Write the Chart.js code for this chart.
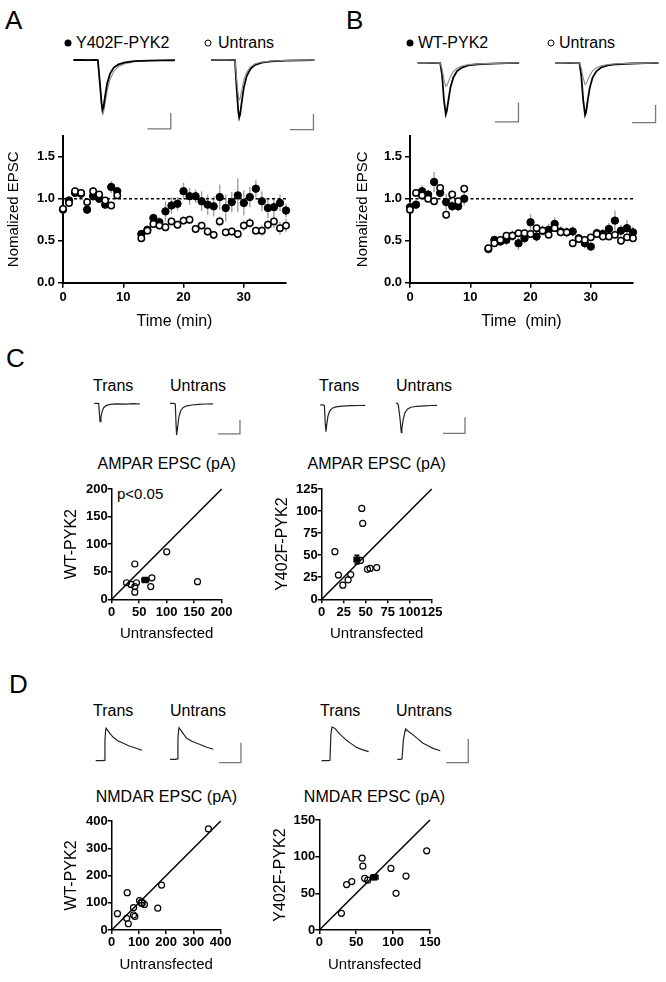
<!DOCTYPE html>
<html>
<head>
<meta charset="utf-8">
<script src="https://cdn.jsdelivr.net/npm/chart.js@4.4.1/dist/chart.umd.min.js"></script>
<style>
  body { margin: 0; width: 666px; height: 982px; position: relative; overflow: hidden; background: #fff;
         font-family: "Liberation Sans", Arial, sans-serif; color: #000; }
  canvas { position: absolute; }
  .lbl { position: absolute; line-height: 1; white-space: pre; transform: translateY(-50%); }
  .ttl { position: absolute; line-height: 1; white-space: pre; transform: translate(-50%, -50%); font-size: 16px; }
  .dot { position: absolute; width: 7px; height: 7px; border-radius: 50%; box-sizing: border-box; transform: translate(-50%, -50%); }
</style>
</head>
<body>

<div class="lbl" style="left:5px;top:20px;font-size:26px">A</div>
<div class="lbl" style="left:346px;top:20px;font-size:26px">B</div>
<div class="lbl" style="left:6px;top:358px;font-size:26px">C</div>
<div class="lbl" style="left:9px;top:684px;font-size:26px">D</div>

<div class="dot" style="left:68px;top:43px;background:#000"></div>
<div class="lbl" style="left:76px;top:43px;font-size:16px">Y402F-PYK2</div>
<div class="dot" style="left:208px;top:43px;border:1.5px solid #000"></div>
<div class="lbl" style="left:218px;top:43px;font-size:16px">Untrans</div>
<div class="dot" style="left:410px;top:43px;background:#000"></div>
<div class="lbl" style="left:418px;top:43px;font-size:16px">WT-PYK2</div>
<div class="dot" style="left:551px;top:43px;border:1.5px solid #000"></div>
<div class="lbl" style="left:559px;top:43px;font-size:16px">Untrans</div>

<div class="lbl" style="left:93px;top:386px;font-size:16px">Trans</div>
<div class="lbl" style="left:170px;top:386px;font-size:16px">Untrans</div>
<div class="lbl" style="left:319px;top:386px;font-size:16px">Trans</div>
<div class="lbl" style="left:396px;top:386px;font-size:16px">Untrans</div>
<div class="ttl" style="left:166.7px;top:464px">AMPAR EPSC (pA)</div>
<div class="ttl" style="left:376.7px;top:464px">AMPAR EPSC (pA)</div>
<div class="lbl" style="left:117px;top:493px;font-size:15px">p&lt;0.05</div>

<div class="lbl" style="left:93px;top:711px;font-size:16px">Trans</div>
<div class="lbl" style="left:170px;top:711px;font-size:16px">Untrans</div>
<div class="lbl" style="left:320px;top:711px;font-size:16px">Trans</div>
<div class="lbl" style="left:396px;top:711px;font-size:16px">Untrans</div>
<div class="ttl" style="left:166.4px;top:797px">NMDAR EPSC (pA)</div>
<div class="ttl" style="left:374.5px;top:797px">NMDAR EPSC (pA)</div>

<script>
// ---- time course (A, B) ----
const timeMin = [0, 1, 2, 3, 4, 5, 6, 7, 8, 9, 13, 14, 15, 16, 17, 18, 19, 20, 21, 22, 23, 24, 25,
                 26, 27, 28, 29, 30, 31, 32, 33, 34, 35, 36, 37];
const baselineLevel = 1.0;

const y402fEpsc = [0.87, 0.98, 1.07, 1.06, 0.87, 1.03, 1.00, 0.93, 1.14, 1.09,
                   0.58, 0.63, 0.77, 0.72, 0.85, 0.92, 0.94, 1.09, 1.03, 1.03, 0.97, 0.93, 0.91,
                   1.02, 0.89, 0.96, 1.04, 0.95, 1.02, 1.12, 0.97, 0.89, 0.90, 0.95, 0.86];
const y402fSem = [0.05, 0.04, 0.04, 0.04, 0.05, 0.05, 0.05, 0.05, 0.07, 0.05,
                  0.05, 0.05, 0.05, 0.06, 0.12, 0.10, 0.08, 0.10, 0.10, 0.08, 0.12, 0.12, 0.12,
                  0.15, 0.16, 0.12, 0.20, 0.15, 0.12, 0.10, 0.12, 0.12, 0.10, 0.10, 0.08];
const untransAEpsc = [0.88, 0.95, 1.09, 1.07, 0.96, 1.09, 1.05, 0.98, 0.92, 1.04,
                      0.53, 0.62, 0.70, 0.68, 0.66, 0.73, 0.69, 0.74, 0.75, 0.64, 0.68, 0.61, 0.57,
                      0.73, 0.60, 0.61, 0.58, 0.68, 0.71, 0.62, 0.62, 0.69, 0.73, 0.65, 0.68];
const untransASem = [0.04, 0.04, 0.04, 0.04, 0.04, 0.04, 0.04, 0.04, 0.04, 0.04,
                     0.04, 0.05, 0.05, 0.05, 0.05, 0.05, 0.05, 0.05, 0.05, 0.05, 0.05, 0.05, 0.05,
                     0.06, 0.05, 0.05, 0.05, 0.06, 0.06, 0.05, 0.06, 0.06, 0.08, 0.08, 0.08];

const wtEpsc = [0.90, 0.93, 1.09, 1.05, 1.20, 1.07, 0.96, 0.91, 0.91, 1.00,
                0.40, 0.51, 0.49, 0.51, 0.56, 0.47, 0.53, 0.72, 0.55, 0.62, 0.63, 0.70, 0.61,
                0.60, 0.61, 0.53, 0.47, 0.43, 0.59, 0.58, 0.64, 0.74, 0.62, 0.65, 0.60];
const wtSem = [0.06, 0.05, 0.07, 0.05, 0.12, 0.05, 0.10, 0.06, 0.06, 0.08,
               0.03, 0.05, 0.05, 0.06, 0.06, 0.08, 0.06, 0.10, 0.06, 0.06, 0.07, 0.08, 0.06,
               0.06, 0.06, 0.05, 0.06, 0.05, 0.06, 0.06, 0.07, 0.12, 0.07, 0.10, 0.07];
const untransBEpsc = [0.87, 1.07, 1.04, 1.00, 0.97, 1.13, 0.81, 1.05, 0.97, 1.12,
                      0.41, 0.47, 0.51, 0.56, 0.56, 0.59, 0.59, 0.58, 0.65, 0.62, 0.57, 0.65, 0.60,
                      0.60, 0.47, 0.52, 0.51, 0.54, 0.58, 0.55, 0.55, 0.57, 0.50, 0.54, 0.53];
const untransBSem = [0.04, 0.04, 0.04, 0.04, 0.04, 0.04, 0.05, 0.04, 0.04, 0.04,
                     0.03, 0.04, 0.04, 0.04, 0.04, 0.04, 0.04, 0.04, 0.04, 0.04, 0.04, 0.04, 0.04,
                     0.04, 0.04, 0.04, 0.04, 0.04, 0.04, 0.04, 0.04, 0.04, 0.04, 0.04, 0.04];

// ---- example traces (ms, pA) ----
const tAL = [0, 8, 16, 24, 26, 28, 30, 31, 32, 34, 36, 39, 43, 48, 55, 65, 80, 95, 108];
const aLeftAfter  = [0, 2, -1, 1, 0, -260, -540, -621, -590, -430, -290, -170, -95, -55, -30, -15, -8, -4, -3];
const aLeftBefore = [0, 1, 0, 1, 0, -280, -600, -681, -660, -520, -380, -240, -140, -80, -45, -22, -10, -5, -3];
const tAR = [0, 8, 16, 24, 25.5, 27, 29, 30, 31, 33, 35, 38, 42, 47, 54, 64, 80, 95, 110];
const aRightAfter  = [0, 1, -1, 0, 0, -300, -640, -721, -680, -500, -340, -200, -110, -60, -32, -16, -8, -4, -2];
const aRightBefore = [0, 1, 0, 0, 0, -200, -440, -500, -480, -360, -250, -150, -85, -48, -26, -13, -6, -3, -2];
const tBL = [0, 8, 16, 22, 24, 26, 28, 30, 31, 33, 35, 38, 42, 47, 54, 64, 80, 95, 108];
const bLeftAfter  = [0, 1, -1, 0, 0, -120, -380, -532, -500, -370, -250, -150, -85, -48, -26, -14, -7, -3, -2];
const bLeftBefore = [0, 1, 0, 0, 0, -60, -170, -243, -235, -190, -140, -90, -55, -32, -18, -10, -5, -2, -1];
const tBR = [0, 8, 16, 24, 26, 28, 30, 32, 33, 35, 37, 40, 44, 49, 56, 66, 82, 96, 110];
const bRightAfter  = [0, 1, -1, 0, 0, -150, -420, -589, -560, -410, -280, -165, -95, -52, -28, -15, -7, -3, -2];
const bRightBefore = [0, 1, 0, 0, 0, -60, -170, -244, -235, -190, -140, -90, -55, -32, -18, -10, -5, -2, -1];

const tCL1 = [0, 6, 10, 12, 13, 15, 18, 22, 28, 36, 50, 70, 90, 104];
const cLeftTrans = [0, 0, -2, -90, -131, -100, -55, -28, -15, -8, -4, -6, -3, -5];
const tCL2 = [0, 8, 12, 14, 15, 17, 20, 24, 30, 38, 50, 65, 80, 98];
const cLeftUntrans = [0, 0, -5, -170, -226, -180, -100, -55, -30, -18, -12, -8, -5, -4];
const tCR1 = [0, 6, 10, 12, 13.6, 15, 18, 22, 28, 36, 50, 70, 90, 103];
const cRightTrans = [0, 1, -3, -120, -167, -130, -70, -38, -20, -12, -7, -4, -3, -2];
const tCR2 = [0, 2, 4, 6, 10, 12.7, 14, 17, 21, 27, 35, 48, 65, 80, 94];
const cRightUntrans = [11, 11, 10, 0, -90, -173, -150, -90, -48, -25, -14, -8, -5, -3, -2];

const tDL1 = [0, 60, 78, 84, 90, 94, 110, 130, 160, 200, 251, 300, 342, 380, 418];
const dLeftTrans = [0, 0, 2, 100, 150, 162, 150, 135, 117, 100, 87, 75, 67, 60, 53];
const tDL2 = [0, 50, 66, 72, 78, 82, 100, 125, 152, 200, 243, 290, 334, 394];
const dLeftUntrans = [0, 0, 2, 100, 145, 158, 145, 125, 105, 90, 80, 70, 60, 50];
const tDR1 = [0, 60, 77, 85, 95, 120, 160, 225, 270, 316, 370, 429];
const dRightTrans = [0, 0, 2, 110, 142, 137, 115, 87, 72, 57, 47, 38];
const tDR2 = [0, 30, 43, 55, 70, 76, 100, 143, 190, 234, 280, 325, 391];
const dRightUntrans = [0, 0, 2, 80, 120, 128, 118, 103, 85, 68, 57, 46, 36];

// ---- scatter (pA) ----
const ampaWtX = [27, 35, 42, 45, 42, 42, 73, 71, 100, 156];
const ampaWtY = [30, 27, 23, 30, 13, 64, 39, 23, 86, 32];
const ampaWtMean = [61, 35], ampaWtMeanErr = [6, 4];
const ampaY402X = [45.5, 46.6, 15, 19, 24, 30, 33, 44, 52, 55, 62.5];
const ampaY402Y = [103, 86, 54, 27.5, 16, 22, 28, 44, 34, 35, 36];
const ampaY402Mean = [40, 45], ampaY402MeanErr = [3, 5];
const nmdaWtX = [355, 183, 57, 21, 55, 61, 80, 80, 85, 169, 102, 120];
const nmdaWtY = [371, 165, 137, 60, 43, 23, 82, 55, 50, 80, 108, 94];
const nmdaWtMean = [110, 100], nmdaWtMeanErr = [12, 12];
const nmdaY402X = [145.5, 58, 59, 97, 117.5, 61.5, 65.6, 37, 44, 104, 30];
const nmdaY402Y = [108, 98, 87, 84, 73.6, 70.5, 68, 62, 66, 50, 22.7];
const nmdaY402Mean = [74.5, 72], nmdaY402MeanErr = [5, 3];

Chart.defaults.font.family = '"Liberation Sans", Arial, sans-serif';
Chart.defaults.color = '#000';
Chart.defaults.animation = false;

function addCanvas(left, top, w, h) {
  const c = document.createElement('canvas');
  c.width = w; c.height = h;
  c.style.left = left + 'px'; c.style.top = top + 'px';
  c.style.width = w + 'px'; c.style.height = h + 'px';
  document.body.appendChild(c);
  return c;
}

function toPts(xs, ys) {
  return xs.map((x, i) => ({ x: x, y: ys[i] }));
}

function drawErr(chart, onTop) {
  const ctx = chart.ctx, xs = chart.scales.x, ys = chart.scales.y;
  chart.data.datasets.forEach(ds => {
    if (!ds.err || !!ds.err.top !== onTop) return;
    ctx.save();
    ctx.strokeStyle = ds.err.color;
    ctx.lineWidth = ds.err.width;
    ds.data.forEach((p, i) => {
      const px = xs.getPixelForValue(p.x), py = ys.getPixelForValue(p.y);
      const cap = ds.err.cap || 0;
      ctx.beginPath();
      if (ds.err.y) {
        const y1 = ys.getPixelForValue(p.y - ds.err.y[i]), y2 = ys.getPixelForValue(p.y + ds.err.y[i]);
        ctx.moveTo(px, y1); ctx.lineTo(px, y2);
        if (cap) { ctx.moveTo(px - cap, y1); ctx.lineTo(px + cap, y1); ctx.moveTo(px - cap, y2); ctx.lineTo(px + cap, y2); }
      }
      if (ds.err.x) {
        const x1 = xs.getPixelForValue(p.x - ds.err.x[i]), x2 = xs.getPixelForValue(p.x + ds.err.x[i]);
        ctx.moveTo(x1, py); ctx.lineTo(x2, py);
        if (cap) { ctx.moveTo(x1, py - cap); ctx.lineTo(x1, py + cap); ctx.moveTo(x2, py - cap); ctx.lineTo(x2, py + cap); }
      }
      ctx.stroke();
    });
    ctx.restore();
  });
}

const errorBars = {
  id: 'errorBars',
  beforeDatasetsDraw(chart) { drawErr(chart, false); },
  afterDatasetsDraw(chart) { drawErr(chart, true); }
};

const tickFont = { size: 13, weight: 'bold' };
const axisGrid = { drawOnChartArea: false, drawTicks: true, tickLength: 5, color: '#000', lineWidth: 1.5 };

function timeChart(box, ca, yTitlePad, xTitle, filled, filledErr, open, openErr) {
  const c = addCanvas(box.left, box.top, box.width, box.height);
  new Chart(c, {
    type: 'scatter',
    data: {
      datasets: [
        { data: toPts(timeMin, open), pointRadius: 3.2, pointBackgroundColor: '#fff', pointBorderColor: '#000',
          pointBorderWidth: 1.5, clip: false, err: { y: openErr, color: '#a0a0a0', width: 1.4 } },
        { data: toPts(timeMin, filled), pointRadius: 3.7, pointBackgroundColor: '#000', pointBorderColor: '#000',
          pointBorderWidth: 1, clip: false, err: { y: filledErr, color: '#a0a0a0', width: 1.4 } },
        { type: 'line', data: [{ x: timeMin[0], y: baselineLevel }, { x: timeMin[timeMin.length - 1], y: baselineLevel }],
          borderColor: '#000', borderWidth: 1.3, borderDash: [3, 2.5], pointRadius: 0, clip: false }
      ]
    },
    options: {
      responsive: false,
      events: [],
      layout: { padding: { top: ca.top - box.top, right: box.left + box.width - ca.right, left: 0, bottom: 0 } },
      plugins: { legend: { display: false }, tooltip: { enabled: false } },
      scales: {
        x: {
          type: 'linear', min: 0, max: 37,
          afterFit: s => { s.height = box.top + box.height - ca.bottom; },
          ticks: { stepSize: 10, includeBounds: false, font: tickFont, padding: 2, maxRotation: 0 },
          grid: axisGrid, border: { color: '#000', width: 2 },
          title: { display: true, text: xTitle, font: { size: 16 }, padding: { top: 0, bottom: 4 } }
        },
        y: {
          min: 0, max: 1.75,
          afterFit: s => { s.width = ca.left - box.left; },
          ticks: { stepSize: 0.5, includeBounds: false, font: tickFont, padding: 3, callback: v => v.toFixed(1) },
          grid: axisGrid, border: { color: '#000', width: 2 },
          title: { display: true, text: 'Nomalized EPSC', font: { size: 15 }, padding: { top: yTitlePad, bottom: 0 } }
        }
      }
    },
    plugins: [errorBars]
  });
}

timeChart({ left: 0, top: 125, width: 300, height: 210 }, { left: 63, top: 135, right: 286, bottom: 282.7 }, 5,
          'Time (min)', y402fEpsc, y402fSem, untransAEpsc, untransASem);
timeChart({ left: 347, top: 125, width: 300, height: 210 }, { left: 410, top: 135, right: 633, bottom: 282.7 }, 6.5,
          'Time  (min)', wtEpsc, wtSem, untransBEpsc, untransBSem);

function scatterChart(cfg) {
  const box = cfg.box, ca = cfg.area;
  const c = addCanvas(box.left, box.top, box.width, box.height);
  new Chart(c, {
    type: 'scatter',
    data: {
      datasets: [
        { data: [{ x: cfg.mean[0], y: cfg.mean[1] }], pointStyle: 'rect', pointRadius: 3.6,
          pointBackgroundColor: cfg.meanFill, pointBorderColor: '#000', pointBorderWidth: 1.3, clip: false,
          err: { x: [cfg.meanErr[0]], y: [cfg.meanErr[1]], color: '#000', width: 1.5, cap: 2.5, top: true } },
        { data: toPts(cfg.xs, cfg.ys), pointRadius: 3, pointBackgroundColor: 'rgba(255,255,255,0)',
          pointBorderColor: '#000', pointBorderWidth: 1.2, clip: false },
        { type: 'line', data: [{ x: 0, y: 0 }, { x: cfg.max, y: cfg.max }], borderColor: '#000', borderWidth: 1.5,
          pointRadius: 0, clip: false }
      ]
    },
    options: {
      responsive: false,
      events: [],
      layout: { padding: { top: ca.top - box.top, left: 0, bottom: 0, right: box.left + box.width - ca.right } },
      plugins: { legend: { display: false }, tooltip: { enabled: false } },
      scales: {
        x: {
          type: 'linear', min: 0, max: cfg.max,
          afterFit: s => { s.height = box.top + box.height - ca.bottom; },
          ticks: { stepSize: cfg.step, font: { size: 13, weight: 'bold' }, padding: 1, maxRotation: 0, autoSkip: false },
          grid: { drawOnChartArea: false, drawTicks: true, tickLength: 4, color: '#000', lineWidth: 1.5 },
          border: { color: '#000', width: 1.5 },
          title: { display: true, text: 'Untransfected', font: { size: 15 },
                   padding: { top: 0, bottom: box.top + box.height - cfg.xTitleY - 9 } }
        },
        y: {
          min: 0, max: cfg.max,
          afterFit: s => { s.width = ca.left - box.left; },
          ticks: { stepSize: cfg.step, font: { size: 13, weight: 'bold' }, padding: 0, autoSkip: false },
          grid: { drawOnChartArea: false, drawTicks: true, tickLength: 4, color: '#000', lineWidth: 1.5 },
          border: { color: '#000', width: 1.5 },
          title: { display: true, text: cfg.yTitle, font: { size: 16 },
                   padding: { top: cfg.yTitleX - box.left - 9.6, bottom: 0 } }
        }
      }
    },
    plugins: [errorBars]
  });
}

scatterChart({ box: { left: 40, top: 478, width: 200, height: 170 }, area: { left: 111.7, top: 489, right: 221.7, bottom: 599.3 },
  xTitleY: 634, yTitle: 'WT-PYK2', yTitleX: 71.7, max: 200, step: 50,
  xs: ampaWtX, ys: ampaWtY, mean: ampaWtMean, meanErr: ampaWtMeanErr, meanFill: '#000' });
scatterChart({ box: { left: 260, top: 478, width: 200, height: 170 }, area: { left: 321.7, top: 489, right: 431.7, bottom: 599.3 },
  xTitleY: 634, yTitle: 'Y402F-PYK2', yTitleX: 283, max: 125, step: 25,
  xs: ampaY402X, ys: ampaY402Y, mean: ampaY402Mean, meanErr: ampaY402MeanErr, meanFill: '#000' });
scatterChart({ box: { left: 40, top: 810, width: 200, height: 170 }, area: { left: 111.7, top: 821, right: 220.7, bottom: 930 },
  xTitleY: 965, yTitle: 'WT-PYK2', yTitleX: 71.7, max: 400, step: 100,
  xs: nmdaWtX, ys: nmdaWtY, mean: nmdaWtMean, meanErr: nmdaWtMeanErr, meanFill: '#fff' });
scatterChart({ box: { left: 260, top: 809, width: 200, height: 171 }, area: { left: 319.3, top: 820, right: 430, bottom: 930 },
  xTitleY: 965, yTitle: 'Y402F-PYK2', yTitleX: 281, max: 150, step: 50,
  xs: nmdaY402X, ys: nmdaY402Y, mean: nmdaY402Mean, meanErr: nmdaY402MeanErr, meanFill: '#333' });

// ---- traces ----
function traceChart(box, origin, pxX, pxY, lines, bar) {
  const c = addCanvas(box.left, box.top, box.width, box.height);
  const datasets = lines.map(l => ({
    data: toPts(l.t, l.v), borderColor: l.color, borderWidth: l.width, pointRadius: 0, tension: 0, clip: false
  }));
  if (bar) {
    datasets.push({
      data: [{ x: bar.x, y: bar.y }, { x: bar.x + bar.dx, y: bar.y }, { x: bar.x + bar.dx, y: bar.y + bar.dy }],
      borderColor: '#777', borderWidth: 1.3, pointRadius: 0, clip: false
    });
  }
  new Chart(c, {
    type: 'line',
    data: { datasets },
    options: {
      responsive: false, events: [],
      layout: { padding: 0 },
      plugins: { legend: { display: false }, tooltip: { enabled: false } },
      scales: {
        x: { type: 'linear', display: false, min: (box.left - origin.x) / pxX, max: (box.left + box.width - origin.x) / pxX },
        y: { type: 'linear', display: false, min: -(box.top + box.height - origin.y) / pxY, max: (origin.y - box.top) / pxY }
      }
    }
  });
}

const blk = (t, v) => ({ t, v, color: '#000', width: 1.8 });
const gry = (t, v) => ({ t, v, color: '#8a8a8a', width: 1.1 });
const thin = (t, v) => ({ t, v, color: '#222', width: 1.2 });

traceChart({ left: 68, top: 50, width: 110, height: 86 }, { x: 73.4, y: 60 }, 0.94, 0.08,
  [blk(tAL, aLeftAfter), gry(tAL, aLeftBefore)], { x: 78.6, y: -862, dx: 25, dy: 200 });
traceChart({ left: 206, top: 50, width: 112, height: 86 }, { x: 211, y: 60 }, 0.94, 0.08,
  [gry(tAR, aRightBefore), blk(tAR, aRightAfter)], { x: 84, y: -871, dx: 25, dy: 200 });
traceChart({ left: 413, top: 52, width: 112, height: 76 }, { x: 417.6, y: 62.9 }, 0.94, 0.097,
  [gry(tBL, bLeftBefore), blk(tBL, bLeftAfter)], { x: 82.3, y: -609, dx: 25, dy: 200 });
traceChart({ left: 550, top: 52, width: 112, height: 76 }, { x: 555, y: 62.9 }, 0.94, 0.0885,
  [gry(tBR, bRightBefore), blk(tBR, bRightAfter)], { x: 82, y: -675, dx: 25, dy: 200 });

traceChart({ left: 90, top: 396, width: 56, height: 44 }, { x: 94.3, y: 403.3 }, 0.44, 0.14,
  [thin(tCL1, cLeftTrans)], null);
traceChart({ left: 165, top: 396, width: 80, height: 44 }, { x: 170, y: 403.3 }, 0.44, 0.14,
  [thin(tCL2, cLeftUntrans)], { x: 109, y: -219, dx: 50, dy: 100 });
traceChart({ left: 315, top: 398, width: 56, height: 42 }, { x: 320, y: 405 }, 0.44, 0.16,
  [thin(tCR1, cRightTrans)], null);
traceChart({ left: 390, top: 396, width: 80, height: 44 }, { x: 395.7, y: 405 }, 0.44, 0.16,
  [thin(tCR2, cRightUntrans)], { x: 107.5, y: -177, dx: 50, dy: 100 });

traceChart({ left: 92, top: 720, width: 56, height: 48 }, { x: 95.7, y: 760.7 }, 0.11, 0.2,
  [thin(tDL1, dLeftTrans)], null);
traceChart({ left: 166, top: 720, width: 80, height: 48 }, { x: 170, y: 759.3 }, 0.11, 0.2,
  [thin(tDL2, dLeftUntrans)], { x: 445, y: -17, dx: 200, dy: 100 });
traceChart({ left: 318, top: 720, width: 56, height: 48 }, { x: 321.5, y: 760.7 }, 0.11, 0.237,
  [thin(tDR1, dRightTrans)], null);
traceChart({ left: 393, top: 720, width: 80, height: 48 }, { x: 397.3, y: 759.3 }, 0.11, 0.237,
  [thin(tDR2, dRightUntrans)], { x: 445, y: -14, dx: 200, dy: 100 });
</script>
</body>
</html>
